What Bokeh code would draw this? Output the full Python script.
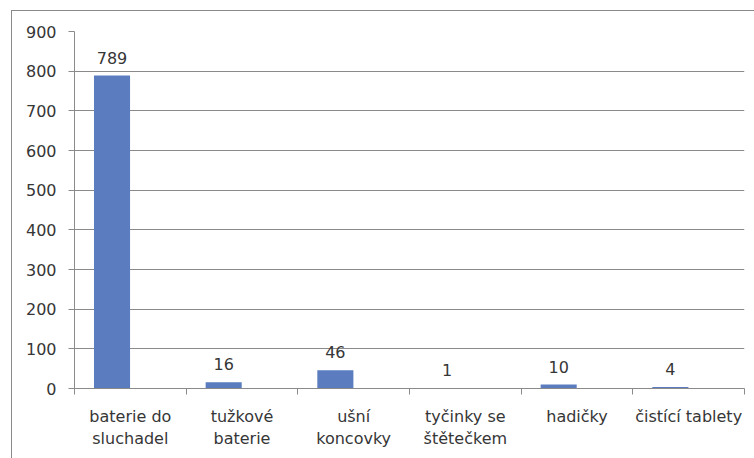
from bokeh.plotting import figure
from bokeh.models import FixedTicker, Range1d
from bokeh.core.properties import value
from bokeh.embed import file_html
from bokeh.resources import INLINE

categories = ["baterie do\nsluchadel", "tužkové\nbaterie", "ušní\nkoncovky",
              "tyčinky se\nštětečkem", "hadičky", "čistící tablety"]
values = [789, 16, 46, 1, 10, 4]
y_ticks = [0, 100, 200, 300, 400, 500, 600, 700, 800, 900]

FONT = "DejaVu Sans"
TXT = "#363636"
GRID = "#8a8a8a"
BAR = "#5b7dbf"

n = len(categories)
xs = [i + 0.336 for i in range(n)]

p = figure(width=743, height=448, output_backend="svg", toolbar_location=None,
           x_range=Range1d(0, n), y_range=Range1d(0, 900),
           min_border_left=62, min_border_right=11, min_border_top=20, min_border_bottom=71,
           margin=(10, 0, 0, 11),
           styles={"border-top": "1px solid #8a8a8a", "border-left": "1px solid #8a8a8a"})
p.outline_line_color = None
p.background_fill_color = "white"
p.border_fill_color = "white"

p.vbar(x=xs, top=values, width=0.323, bottom=0, fill_color=BAR, line_color=None)
p.text(x=xs, y=values, text=[str(v) for v in values], text_align="center",
       text_baseline="bottom", y_offset=-12, text_font=value(FONT),
       text_font_size="16px", text_color=TXT)

p.xgrid.visible = False
p.ygrid.grid_line_color = GRID

p.yaxis.ticker = FixedTicker(ticks=y_ticks)
p.yaxis.axis_line_color = GRID
p.yaxis.major_tick_line_color = GRID
p.yaxis.major_tick_out = 6
p.yaxis.major_tick_in = 0
p.yaxis.minor_tick_line_color = None
p.yaxis.major_label_standoff = 12
p.yaxis.major_label_text_font = FONT
p.yaxis.major_label_text_font_size = "16px"
p.yaxis.major_label_text_color = TXT

centers = [i + 0.5 for i in range(n)]
p.xaxis.ticker = FixedTicker(ticks=centers, minor_ticks=list(range(n + 1)))
p.xaxis.major_label_overrides = {c: lab for c, lab in zip(centers, categories)}
p.xaxis.axis_line_color = GRID
p.xaxis.major_tick_line_color = None
p.xaxis.major_tick_out = 0
p.xaxis.major_tick_in = 0
p.xaxis.minor_tick_line_color = GRID
p.xaxis.minor_tick_out = 6
p.xaxis.minor_tick_in = 0
p.xaxis.major_label_standoff = 12
p.xaxis.major_label_text_font = FONT
p.xaxis.major_label_text_font_size = "16px"
p.xaxis.major_label_text_color = TXT
p.xaxis.major_label_text_line_height = 1.2

open("out.html", "w").write(file_html(p, INLINE))
